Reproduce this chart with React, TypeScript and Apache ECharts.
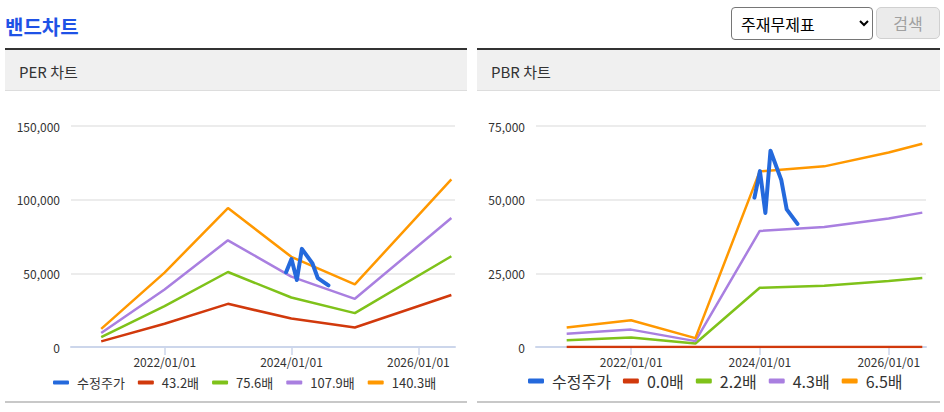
import React, { useEffect, useRef } from 'react';
import * as echarts from 'echarts';

// ---- data ----
const perDates = ['2020-12-31', '2021-12-31', '2022-12-31', '2023-12-31', '2024-12-31', '2026-07-10'];
const pbrDates = ['2020-12-31', '2021-12-31', '2022-12-31', '2023-12-31', '2024-12-31', '2025-12-31', '2026-07-10'];
const priceDates = ['2023-12-01', '2024-01-01', '2024-02-01', '2024-03-01', '2024-05-01', '2024-06-01', '2024-08-01'];
const priceValues = [50700, 59700, 45500, 66600, 56700, 46700, 41800];

const priceName = '수정주가';
const perNames = ['43.2배', '75.6배', '107.9배', '140.3배'];
const per1 = [3800, 15800, 29300, 19300, 13200, 35300];
const per2 = [6700, 27800, 50900, 33600, 23000, 61600];
const per3 = [9500, 39000, 72400, 47800, 32700, 87500];
const per4 = [12300, 50500, 94300, 61200, 42500, 113800];

const pbrNames = ['0.0배', '2.2배', '4.3배', '6.5배'];
const pbr1 = [0, 0, 0, 0, 0, 0, 0];
const pbr2 = [2300, 3200, 1200, 20100, 20800, 22400, 23400];
const pbr3 = [4500, 5900, 2000, 39400, 40700, 43600, 45600];
const pbr4 = [6600, 9100, 3000, 59600, 61300, 66000, 69000];

const xTickDates = ['2022-01-01', '2024-01-01', '2026-01-01'];
const xMinDate = '2020-07-10';
const xMaxDate = '2026-07-31';
const perYMax = 150000;
const perYStep = 50000;
const pbrYMax = 75000;
const pbrYStep = 25000;

const FONT = "'Noto Sans CJK KR', 'Noto Sans', sans-serif";
const COLORS = ['#2469dc', '#d1390c', '#7fc21a', '#a97fe0', '#ff9800'];

function parseDate(s: string) {
  const [y, m, d] = s.split('-').map(Number);
  return new Date(y, m - 1, d).getTime();
}
function pad(n: number) {
  return n < 10 ? '0' + n : '' + n;
}

function buildOption(opts: {
  dates: string[];
  names: string[];
  bands: number[][];
  yMax: number;
  yStep: number;
  grid: { left: number; right: number; top: number; bottom: number };
  legendFont: number;
  legendLeft: number;
  legendTop: number;
  legendIconH: number;
  legendGap: number;
}) {
  const ticks = xTickDates.map(parseDate);
  const series: any[] = [
    {
      name: priceName,
      type: 'line',
      data: priceDates.map((d, i) => [parseDate(d), priceValues[i]]),
      showSymbol: false,
      z: 5,
      lineStyle: { width: 4, color: COLORS[0], cap: 'round', join: 'round' },
      itemStyle: { color: COLORS[0] },
    },
  ];
  opts.bands.forEach((vals, k) => {
    series.push({
      name: opts.names[k],
      type: 'line',
      data: opts.dates.map((d, i) => [parseDate(d), vals[i]]),
      showSymbol: false,
      z: 2,
      lineStyle: { width: 2.5, color: COLORS[k + 1] },
      itemStyle: { color: COLORS[k + 1] },
    });
  });
  return {
    animation: false,
    textStyle: { fontFamily: FONT },
    grid: { ...opts.grid, containLabel: false },
    legend: {
      left: opts.legendLeft,
      top: opts.legendTop,
      padding: 0,
      icon: 'roundRect',
      itemWidth: 16,
      itemHeight: opts.legendIconH,
      itemGap: opts.legendGap,
      textStyle: { fontSize: opts.legendFont, color: '#333', fontFamily: FONT, padding: [0, 0, 0, 3] },
      data: [priceName, ...opts.names],
    },
    xAxis: {
      type: 'value',
      min: parseDate(xMinDate),
      max: parseDate(xMaxDate),
      splitLine: { show: false },
      axisLine: { show: true, lineStyle: { color: '#ccd6eb', width: 2 } },
      axisTick: { show: true, customValues: ticks, length: 8, lineStyle: { color: '#ccd6eb', width: 1.5 } },
      axisLabel: {
        customValues: ticks,
        color: '#333',
        fontSize: 12,
        margin: 8,
        fontFamily: FONT,
        formatter: (v: number) => {
          const d = new Date(v);
          return `${d.getFullYear()}/${pad(d.getMonth() + 1)}/${pad(d.getDate())}`;
        },
      },
    },
    yAxis: {
      type: 'value',
      min: 0,
      max: opts.yMax,
      interval: opts.yStep,
      axisLine: { show: false },
      axisTick: { show: false },
      splitLine: { show: true, lineStyle: { color: '#e6e6e6', width: 1.5 } },
      axisLabel: {
        color: '#333',
        fontSize: 12,
        margin: 11,
        fontFamily: FONT,
        formatter: (v: number) => v.toLocaleString('en-US'),
      },
    },
    series,
  };
}

function Chart({ option, style }: { option: any; style: React.CSSProperties }) {
  const ref = useRef<HTMLDivElement>(null);
  useEffect(() => {
    const chart = echarts.init(ref.current!, null, { renderer: 'svg' });
    chart.setOption(option);
    return () => chart.dispose();
  }, []);
  return <div ref={ref} style={style} />;
}

function Panel({ left, width, title, option }: { left: number; width: number; title: string; option: any }) {
  return (
    <div style={{ position: 'absolute', left, top: 48, width, height: 355 }}>
      <div
        style={{
          position: 'absolute',
          left: 0,
          top: 0,
          width,
          height: 40,
          borderTop: '2px solid #333',
          borderBottom: '1px solid #dddddd',
          background: '#f0f0f0',
          boxSizing: 'content-box',
        }}
      >
        <div
          style={{
            position: 'absolute',
            left: 14,
            top: 2,
            lineHeight: '40px',
            fontSize: 15,
            color: '#333',
            fontFamily: FONT,
          }}
        >
          {title}
        </div>
      </div>
      <Chart option={option} style={{ position: 'absolute', left: 0, top: 43, width, height: 310 }} />
      <div style={{ position: 'absolute', left: 0, top: 353, width, height: 2, background: '#c8c8c8' }} />
    </div>
  );
}

export default function App() {
  const perOption = buildOption({
    dates: perDates,
    names: perNames,
    bands: [per1, per2, per3, per4],
    yMax: perYMax,
    yStep: perYStep,
    grid: { left: 66, right: 12, top: 35, bottom: 54 },
    legendFont: 13,
    legendLeft: 48,
    legendTop: 285,
    legendIconH: 4,
    legendGap: 13,
  });
  const pbrOption = buildOption({
    dates: pbrDates,
    names: pbrNames,
    bands: [pbr1, pbr2, pbr3, pbr4],
    yMax: pbrYMax,
    yStep: pbrYStep,
    grid: { left: 59, right: 14, top: 35, bottom: 54 },
    legendFont: 16,
    legendLeft: 51,
    legendTop: 282,
    legendIconH: 5,
    legendGap: 12,
  });
  return (
    <div
      style={{
        position: 'absolute',
        left: 0,
        top: 0,
        width: 944,
        height: 412,
        background: '#fff',
        fontFamily: FONT,
        overflow: 'hidden',
      }}
    >
      <div
        style={{
          position: 'absolute',
          left: 5,
          top: 14,
          fontSize: 20,
          fontWeight: 700,
          lineHeight: '26px',
          color: '#1f52e6',
        }}
      >
        밴드차트
      </div>
      <select
        defaultValue="main"
        style={{
          position: 'absolute',
          left: 731,
          top: 7,
          width: 142,
          height: 33,
          fontSize: 16,
          fontFamily: FONT,
          border: '1px solid #767676',
          borderRadius: 4,
          paddingLeft: 5,
          background: '#fff',
          color: '#000',
        }}
      >
        <option value="main">주재무제표</option>
      </select>
      <button
        disabled
        style={{
          position: 'absolute',
          left: 876,
          top: 7,
          width: 64,
          height: 32,
          fontSize: 16,
          fontFamily: FONT,
          border: '1px solid #d0d0d0',
          borderRadius: 5,
          background: '#ebebeb',
          color: '#a0a0a0',
          padding: 0,
        }}
      >
        검색
      </button>
      <Panel left={5} width={462} title="PER 차트" option={perOption} />
      <Panel left={477} width={463} title="PBR 차트" option={pbrOption} />
    </div>
  );
}
